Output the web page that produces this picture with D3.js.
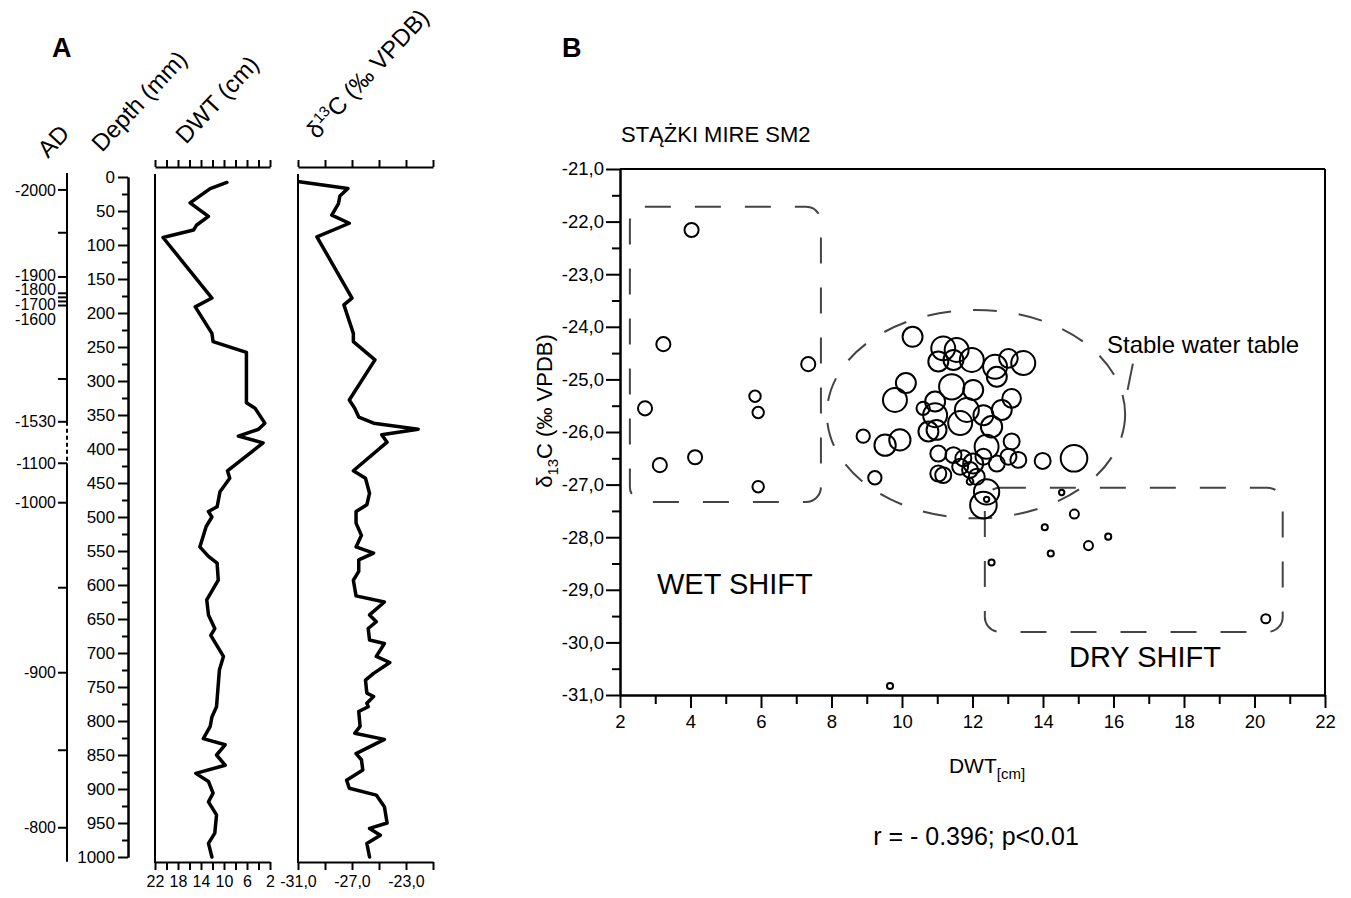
<!DOCTYPE html>
<html>
<head>
<meta charset="utf-8">
<script src="https://cdn.jsdelivr.net/npm/d3@7"></script>
<style>
  body { margin: 0; background: #fff; }
  text { font-family: "Liberation Sans", Arial, sans-serif; fill: #000; }
</style>
</head>
<body>
<script>
// ---- panel A : core profile ----
var dwtDepth = [8, 17, 38, 58, 71, 78, 89, 178, 191, 230, 242, 258, 332, 340, 362, 371, 381, 391,
  432, 443, 463, 485, 492, 500, 514, 544, 558, 568, 593, 622, 644, 664, 674, 705, 725, 779, 794,
  808, 826, 835, 850, 865, 877, 889, 906, 919, 938, 965, 980, 1000];
var dwtValue = [9.5, 12.4, 15.9, 12.7, 14.8, 15.3, 20.6, 12.1, 15.0, 12.1, 11.9, 6.1, 6.1, 4.6, 2.9,
  4.0, 7.5, 3.2, 9.4, 9.0, 10.7, 11.2, 12.7, 12.1, 13.1, 14.2, 12.7, 11.2, 11.0, 13.0, 12.7, 11.6,
  12.3, 10.1, 10.8, 11.3, 12.1, 12.4, 13.6, 9.8, 11.3, 9.8, 14.9, 12.7, 11.9, 12.7, 11.3, 11.6,
  12.7, 12.1];

var d13Depth = [7, 17, 28, 39, 56, 68, 88, 178, 188, 230, 242, 269, 328, 340, 353, 362, 371, 379,
  390, 432, 443, 465, 482, 492, 509, 527, 544, 553, 563, 580, 593, 616, 625, 644, 654, 664, 681,
  686, 705, 714, 730, 740, 759, 764, 774, 779, 786, 808, 818, 827, 848, 857, 872, 887, 899, 909,
  926, 950, 958, 968, 980, 1000];
var d13Value = [-30.9, -27.3, -27.9, -28.0, -28.5, -27.2, -29.6, -27.0, -27.6, -26.9, -26.9, -25.3,
  -27.2, -26.8, -26.5, -25.4, -22.1, -24.8, -24.4, -26.9, -26.0, -25.7, -25.9, -26.7, -26.7, -26.3,
  -26.7, -25.4, -26.5, -26.5, -26.9, -26.7, -24.6, -25.7, -25.2, -25.8, -25.7, -24.6, -25.2, -24.2,
  -25.4, -26.0, -25.9, -25.4, -25.9, -25.8, -26.5, -26.4, -26.8, -24.6, -26.7, -26.3, -26.2, -27.4,
  -27.2, -25.2, -24.6, -24.4, -25.7, -24.9, -25.9, -25.7];

var adLabels = ["-2000", "-1900", "-1800", "-1700", "-1600", "-1530", "-1100", "-1000", "-900", "-800"];
var adLabelDepths = [19, 144, 166, 188, 210, 360, 421, 479, 729, 957];
var adTickDepths = [19, 82, 147, 171, 177, 183, 189, 297, 360, 421, 479, 604, 729, 843, 957];

// ---- panel B : scatter ----
var scatterDwt = [4.03, 3.23, 2.71, 3.13, 4.13, 5.83, 5.92, 5.92, 7.34,
  10.30, 11.17, 11.55, 11.03, 11.46, 11.98, 12.64, 13.02, 13.44, 12.69,
  10.11, 9.80, 11.41, 12.02, 13.11, 10.60, 10.94, 10.94, 11.84, 12.31,
  12.83, 10.75, 10.98, 11.65, 12.54, 8.90, 9.52, 9.94, 12.40, 13.11,
  11.03, 11.46, 11.74, 12.02, 12.31, 12.69, 13.02, 13.30, 13.99, 14.88,
  11.03, 11.17, 11.65, 11.93, 12.12, 9.23, 12.40, 12.31, 12.40, 11.93, 14.53,
  14.89, 14.05, 15.85, 15.29, 14.22, 12.54, 20.32, 9.66];
var scatterD13C = [-22.16, -24.33, -25.55, -26.63, -26.48, -25.32, -25.63, -27.04, -24.71,
  -24.19, -24.41, -24.44, -24.66, -24.63, -24.63, -24.76, -24.60, -24.69, -24.95,
  -25.07, -25.39, -25.14, -25.20, -25.36, -25.55, -25.42, -25.68, -25.58, -25.68,
  -25.58, -25.99, -25.96, -25.83, -25.90, -26.08, -26.25, -26.15, -26.28, -26.18,
  -26.41, -26.44, -26.50, -26.60, -26.47, -26.60, -26.47, -26.53, -26.55, -26.50,
  -26.79, -26.82, -26.66, -26.72, -26.85, -26.87, -27.14, -27.39, -27.28, -26.94, -27.15,
  -27.56, -27.81, -27.99, -28.16, -28.31, -28.48, -29.55, -30.83];
var scatterSize = [5.3, 5.3, 5.3, 5.3, 5.3, 4.3, 4.3, 4.3, 5.3,
  7.5, 9, 9, 7.5, 7.5, 9, 9, 7, 9, 7.5,
  7.5, 9, 9.5, 7.5, 7, 5, 7.5, 9, 9, 7.5,
  7.5, 7.5, 7.5, 9, 8, 5, 8, 8, 9, 6,
  6, 6, 6, 7.5, 6, 6, 6, 6, 6, 10,
  6, 6, 6, 6, 6, 5, 9.5, 10, 2, 2.5, 2,
  3.4, 2.3, 2.3, 3.4, 2.3, 2.3, 3.4, 2.3];

var yTicksB = [-31, -30, -29, -28, -27, -26, -25, -24, -23, -22, -21];
var xTicksB = [2, 4, 6, 8, 10, 12, 14, 16, 18, 20, 22];

var svg = d3.select("body").append("svg")
  .attr("width", 1351)
  .attr("height", 898);

var comma = d3.formatLocale({decimal: ",", thousands: ".", grouping: [3], currency: ["", ""], minus: "-"}).format(".1f");

// ================= PANEL A =================
var yDepth = d3.scaleLinear().domain([0, 1000]).range([177, 857]);
var xDwt = d3.scaleLinear().domain([22, 2]).range([155, 270]);
var xD13 = d3.scaleLinear().domain([-31, -21]).range([298, 433]);

svg.append("text").attr("x", 52).attr("y", 57)
  .style("font-size", "27px").style("font-weight", "bold").text("A");

// rotated column titles
function rotTitle(x, y, txt) {
  return svg.append("text")
    .attr("transform", "translate(" + x + "," + y + ") rotate(-47)")
    .style("font-size", "24px")
    .text(txt);
}
rotTitle(48, 159, "AD");
rotTitle(102, 153, "Depth (mm)");
rotTitle(186, 145, "DWT (cm)");
var dt = rotTitle(317, 140, "δ");
dt.append("tspan").attr("dy", -9).style("font-size", "15px").text("13");
dt.append("tspan").attr("dy", 9).text("C (‰ VPDB)");

// AD axis
var ad = svg.append("g").attr("transform", "translate(67,0)");
ad.append("line").attr("x1", 0).attr("x2", 0)
  .attr("y1", yDepth(-6)).attr("y2", yDepth(360))
  .attr("stroke", "#000").attr("stroke-width", 2);
ad.append("line").attr("x1", 0).attr("x2", 0)
  .attr("y1", yDepth(360)).attr("y2", yDepth(421))
  .attr("stroke", "#000").attr("stroke-width", 2).attr("stroke-dasharray", "4 3");
ad.append("line").attr("x1", 0).attr("x2", 0)
  .attr("y1", yDepth(421)).attr("y2", yDepth(1007))
  .attr("stroke", "#000").attr("stroke-width", 2);
ad.selectAll(".adtick").data(adTickDepths).enter().append("line")
  .attr("x1", -9).attr("x2", 0)
  .attr("y1", function(d) { return yDepth(d); })
  .attr("y2", function(d) { return yDepth(d); })
  .attr("stroke", "#000").attr("stroke-width", 2);
ad.selectAll(".adlab").data(adLabels).enter().append("text")
  .attr("x", -11)
  .attr("y", function(d, i) { return yDepth(adLabelDepths[i]); })
  .attr("dy", "0.35em")
  .attr("text-anchor", "end")
  .style("font-size", "16px")
  .text(function(d) { return d; });

// depth axis
svg.append("g").attr("transform", "translate(128,0)")
  .call(d3.axisLeft(yDepth).tickValues(d3.range(25, 1000, 50)).tickSize(6).tickSizeOuter(0).tickFormat(""));
var depthMajor = svg.append("g").attr("transform", "translate(128,0)")
  .call(d3.axisLeft(yDepth).tickValues(d3.range(0, 1001, 50)).tickSize(10).tickSizeOuter(0)
    .tickPadding(3).tickFormat(d3.format("d")));
depthMajor.selectAll("text").style("font-size", "17px").attr("fill", "#000");

// DWT panel
svg.append("line").attr("x1", xDwt(22)).attr("x2", xDwt(22))
  .attr("y1", 174).attr("y2", 863).attr("stroke", "#000").attr("stroke-width", 2);
svg.append("g").attr("transform", "translate(0,167)")
  .call(d3.axisTop(xDwt).tickValues(d3.range(2, 23, 2)).tickSize(7).tickSizeOuter(0).tickFormat(""));
var dwtBot = svg.append("g").attr("transform", "translate(0,862)")
  .call(d3.axisBottom(xDwt).tickValues(d3.range(2, 23, 2)).tickSize(8).tickSizeOuter(0).tickPadding(6)
    .tickFormat(function(d) { return (22 - d) % 4 === 0 ? d : ""; }));
dwtBot.selectAll("text").style("font-size", "16px").attr("fill", "#000");

// d13C panel
svg.append("line").attr("x1", xD13(-31)).attr("x2", xD13(-31))
  .attr("y1", 174).attr("y2", 863).attr("stroke", "#000").attr("stroke-width", 2);
svg.append("g").attr("transform", "translate(0,167)")
  .call(d3.axisTop(xD13).tickValues(d3.range(-31, -20, 2)).tickSize(7).tickSizeOuter(0).tickFormat(""));
var d13Bot = svg.append("g").attr("transform", "translate(0,862)")
  .call(d3.axisBottom(xD13).tickValues(d3.range(-31, -20, 2)).tickSize(8).tickSizeOuter(0).tickPadding(6)
    .tickFormat(function(d) { return (d === -31 || d === -27 || d === -23) ? comma(d) : ""; }));
d13Bot.selectAll("text").style("font-size", "16px").attr("fill", "#000");

svg.selectAll(".domain, .tick line").attr("stroke", "#000").attr("stroke-width", 2);

var dwtLine = d3.line()
  .x(function(d, i) { return xDwt(dwtValue[i]); })
  .y(function(d) { return yDepth(d); });
svg.append("path").attr("d", dwtLine(dwtDepth))
  .attr("fill", "none").attr("stroke", "#000").attr("stroke-width", 3.5)
  .attr("stroke-linejoin", "round").attr("stroke-linecap", "round");

var d13Line = d3.line()
  .x(function(d, i) { return xD13(d13Value[i]); })
  .y(function(d) { return yDepth(d); });
svg.append("path").attr("d", d13Line(d13Depth))
  .attr("fill", "none").attr("stroke", "#000").attr("stroke-width", 3.5)
  .attr("stroke-linejoin", "round").attr("stroke-linecap", "round");

// ================= PANEL B =================
var xB = d3.scaleLinear().domain([2, 22]).range([620, 1325]);
var yB = d3.scaleLinear().domain([-31, -21]).range([695, 169]);
var rB = d3.scaleLinear().domain([0, 10]).range([0, 13.3]);

svg.append("text").attr("x", 562).attr("y", 57)
  .style("font-size", "27px").style("font-weight", "bold").text("B");
svg.append("text").attr("x", 621).attr("y", 142)
  .style("font-size", "22px").text("STĄŻKI MIRE SM2");

var gB = svg.append("g");
gB.append("g").attr("transform", "translate(" + xB(2) + ",0)")
  .call(d3.axisLeft(yB).tickValues(d3.range(-30.5, -21, 1)).tickSize(8).tickSizeOuter(0).tickFormat(""));
var yAxB = gB.append("g").attr("transform", "translate(" + xB(2) + ",0)")
  .call(d3.axisLeft(yB).tickValues(yTicksB).tickSize(14).tickSizeOuter(0).tickPadding(2).tickFormat(comma));
yAxB.selectAll("text").style("font-size", "18.5px").attr("fill", "#000");

gB.append("g").attr("transform", "translate(0," + yB(-31) + ")")
  .call(d3.axisBottom(xB).tickValues(d3.range(3, 22, 2)).tickSize(9).tickSizeOuter(0).tickFormat(""));
var xAxB = gB.append("g").attr("transform", "translate(0," + yB(-31) + ")")
  .call(d3.axisBottom(xB).tickValues(xTicksB).tickSize(13).tickSizeOuter(0).tickPadding(7));
xAxB.selectAll("text").style("font-size", "18.5px").attr("fill", "#000");
gB.selectAll(".domain, .tick line").attr("stroke", "#000").attr("stroke-width", 2);

// frame top & right
gB.append("line").attr("x1", xB(2)).attr("x2", xB(22)).attr("y1", yB(-21)).attr("y2", yB(-21))
  .attr("stroke", "#000").attr("stroke-width", 2);
gB.append("line").attr("x1", xB(22)).attr("x2", xB(22)).attr("y1", yB(-21)).attr("y2", yB(-31))
  .attr("stroke", "#000").attr("stroke-width", 2);

// axis titles
var yt = svg.append("text")
  .attr("transform", "translate(552,411) rotate(-90)")
  .attr("text-anchor", "middle")
  .style("font-size", "22px");
yt.append("tspan").text("δ");
yt.append("tspan").attr("dy", 6).style("font-size", "15px").text("13");
yt.append("tspan").attr("dy", -6).text("C (‰ VPDB)");

var xt = svg.append("text").attr("x", 987).attr("y", 773)
  .attr("text-anchor", "middle").style("font-size", "21px");
xt.append("tspan").text("DWT");
xt.append("tspan").attr("dy", 6).style("font-size", "15px").text("[cm]");

svg.append("text").attr("x", 976).attr("y", 845)
  .attr("text-anchor", "middle").style("font-size", "25px")
  .text("r = - 0.396; p<0.01");

// dashed groupings
var dashStyle = function(sel) {
  return sel.attr("fill", "none").attr("stroke", "#444").attr("stroke-width", 2)
    .attr("stroke-dasharray", "26 24");
};
dashStyle(gB.append("rect")
  .attr("x", xB(2.28)).attr("y", yB(-21.72))
  .attr("width", xB(7.7) - xB(2.28)).attr("height", yB(-27.33) - yB(-21.72))
  .attr("rx", 15));
dashStyle(gB.append("rect")
  .attr("x", xB(12.35)).attr("y", yB(-27.06))
  .attr("width", xB(20.8) - xB(12.35)).attr("height", yB(-29.8) - yB(-27.06))
  .attr("rx", 15));
dashStyle(gB.append("ellipse")
  .attr("cx", xB(12.1)).attr("cy", yB(-25.66))
  .attr("rx", xB(16.33) - xB(12.1)).attr("ry", yB(-27.64) - yB(-25.66)))
  .attr("stroke-dasharray", "24 22");
gB.append("line")
  .attr("x1", xB(16.4)).attr("y1", yB(-25.2))
  .attr("x2", xB(16.55)).attr("y2", yB(-24.7))
  .attr("stroke", "#444").attr("stroke-width", 2);

svg.append("text").attr("x", 657).attr("y", 594).style("font-size", "29px").text("WET SHIFT");
svg.append("text").attr("x", 1069).attr("y", 667).style("font-size", "29px").text("DRY SHIFT");
svg.append("text").attr("x", 1107).attr("y", 353).style("font-size", "24px").text("Stable water table");

// points
gB.selectAll(".pt").data(scatterDwt).enter().append("circle")
  .attr("cx", function(d) { return xB(d); })
  .attr("cy", function(d, i) { return yB(scatterD13C[i]); })
  .attr("r", function(d, i) { return rB(scatterSize[i]); })
  .attr("fill", "none")
  .attr("stroke", "#000")
  .attr("stroke-width", 2);
</script>
</body>
</html>
